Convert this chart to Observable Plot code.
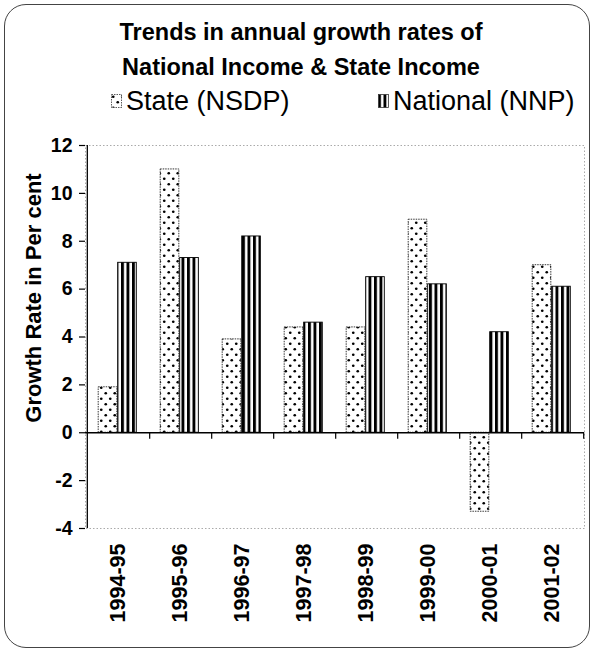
<!DOCTYPE html>
<html>
<head>
<meta charset="utf-8">
<script src="https://cdn.jsdelivr.net/npm/d3@7"></script>
<script src="https://cdn.jsdelivr.net/npm/@observablehq/plot@0.6"></script>
<style>
  body { margin: 0; background: #fff; }
  #wrap { position: relative; width: 594px; height: 652px; overflow: hidden; font-family: "Liberation Sans", Arial, sans-serif; color: #000; }
  #border { position: absolute; left: 4px; top: 4px; width: 586px; height: 644px; border: 1px solid #444; border-radius: 22px; box-sizing: border-box; }
  #title { position: absolute; left: 0; width: 602px; top: 15px; text-align: center; font-weight: bold; font-size: 23.5px; line-height: 35px; }
  .leg { position: absolute; top: 86px; font-size: 27px; line-height: 30px; white-space: nowrap; display: flex; align-items: center; }
  .leg svg { margin-right: 4px; }
  #ylabel { position: absolute; left: 34px; top: 298px; transform: translate(-50%, -50%) rotate(-90deg); font-weight: bold; font-size: 22px; white-space: nowrap; }
  #chart { position: absolute; left: 0; top: 0; }
</style>
</head>
<body>
<div id="wrap">
  <div id="chart"></div>
  <div id="border"></div>
  <div id="title"></div>
  <div id="leg1" class="leg" style="left:111px"></div>
  <div id="leg2" class="leg" style="left:378px"></div>
  <div id="ylabel"></div>
</div>
<script>
// ---- data ----
const titleLines = ["Trends in annual growth rates of", "National Income & State Income"];
const yLabel = "Growth Rate in Per cent";
const years = ["1994-95", "1995-96", "1996-97", "1997-98", "1998-99", "1999-00", "2000-01", "2001-02"];
const seriesNames = ["State (NSDP)", "National (NNP)"];
const stateValues = [1.9, 11.0, 3.9, 4.4, 4.4, 8.9, -3.3, 7.0];
const nationalValues = [7.1, 7.3, 8.2, 4.6, 6.5, 6.2, 4.2, 6.1];
const yTicks = [-4, -2, 0, 2, 4, 6, 8, 10, 12];

const stateRows = years.map((y, i) => ({year: y, series: seriesNames[0], value: stateValues[i]}));
const nationalRows = years.map((y, i) => ({year: y, series: seriesNames[1], value: nationalValues[i]}));

// ---- layout ----
const W = 594, H = 652, mL = 85, mR = 10, mT = 145, mB = 124;
const bw = (W - mL - mR) / years.length;

const chart = Plot.plot({
  width: W, height: H,
  marginLeft: mL, marginRight: mR, marginTop: mT, marginBottom: mB,
  style: {fontFamily: "'Liberation Sans', Arial, sans-serif", fontWeight: "bold", background: "transparent", color: "#000", overflow: "visible"},
  x: {domain: years, padding: 0},
  y: {domain: [-4, 12]},
  marks: [
    Plot.frame({stroke: "#aaa", strokeDasharray: "1.5,2"}),
    Plot.barY(stateRows, {x: "year", y: "value", fill: "url(#dots)", stroke: "#222", strokeWidth: 0.9, strokeDasharray: "1.5,1",
      insetLeft: bw / 2 - 20, insetRight: bw / 2 + 1}),
    Plot.barY(nationalRows, {x: "year", y: "value", fill: "url(#stripes)", stroke: "#000", strokeWidth: 0.9,
      insetLeft: bw / 2 - 0.5, insetRight: bw / 2 - 18.5}),
    Plot.ruleY([0], {stroke: "#000", strokeWidth: 1.3}),
    Plot.ruleX(years, {x: d => d, dx: bw / 2, y1: 0, y2: -0.27, stroke: "#000", strokeWidth: 1.2}),
    Plot.ruleX([years[0]], {dx: -bw / 2, y1: -4, y2: 12, stroke: "#000", strokeWidth: 1.3}),
    Plot.axisY({ticks: yTicks, tickFormat: d => String(d), tickSize: 6, tickPadding: 7, label: null, strokeWidth: 1.2}),
    Plot.axisX({tickRotate: -90, tickSize: 0, tickPadding: 15, label: null})
  ]
});

// enlarge tick label fonts
d3.select(chart).selectAll("text").each(function() {
  const t = this.textContent;
  d3.select(this).style("font-size", years.includes(t) ? "21.5px" : "19.5px").style("font-weight", "bold");
});

// ---- patterns ----
const defs = d3.select(chart).insert("defs", ":first-child");
const pd = defs.append("pattern").attr("id", "dots").attr("patternUnits", "userSpaceOnUse")
  .attr("width", 9).attr("height", 11);
pd.append("rect").attr("width", 9).attr("height", 11).attr("fill", "#fff");
pd.append("circle").attr("cx", 2.25).attr("cy", 2.75).attr("r", 1.35).attr("fill", "#000");
pd.append("circle").attr("cx", 6.75).attr("cy", 8.25).attr("r", 1.35).attr("fill", "#000");
const ps = defs.append("pattern").attr("id", "stripes").attr("patternUnits", "userSpaceOnUse")
  .attr("width", 5.5).attr("height", 10);
ps.append("rect").attr("width", 5.5).attr("height", 10).attr("fill", "#fff");
ps.append("rect").attr("x", 0).attr("width", 2.9).attr("height", 10).attr("fill", "#000");

document.getElementById("chart").appendChild(chart);

// ---- text ----
document.getElementById("title").innerHTML = titleLines.join("<br>");
document.getElementById("ylabel").textContent = yLabel;

function swatch(fill, dashed) {
  const s = d3.create("svg").attr("width", 11).attr("height", 14);
  s.append("rect").attr("x", 0.5).attr("y", 0.5).attr("width", 10).attr("height", 13)
    .attr("fill", fill).attr("stroke", "#333").attr("stroke-width", 0.8)
    .attr("stroke-dasharray", dashed ? "1.5,1" : null);
  return s.node();
}
const l1 = document.getElementById("leg1");
l1.appendChild(swatch("url(#dots)", true));
l1.appendChild(document.createTextNode(seriesNames[0]));
const l2 = document.getElementById("leg2");
l2.appendChild(swatch("url(#stripes)", false));
l2.appendChild(document.createTextNode(seriesNames[1]));
</script>
</body>
</html>
